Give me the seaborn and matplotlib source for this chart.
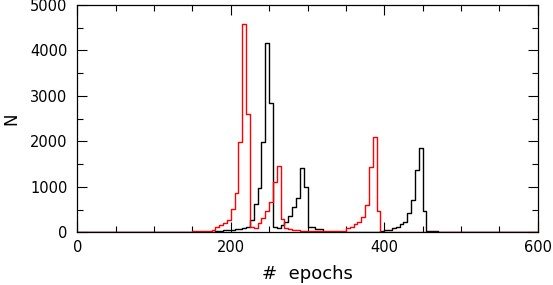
import numpy as np
import pandas as pd
import matplotlib
matplotlib.use("Agg")
import matplotlib.pyplot as plt
import seaborn as sns
from matplotlib.ticker import MultipleLocator

# ---- data (counts per 5-epoch bin) ----
bin_width = 5
red_first_bin = 150
red_counts = [30, 30, 30, 30, 35, 60, 110, 160, 200, 280,
              520, 870, 1980, 4580, 2610, 120, 100, 200, 310, 475,
              670, 1110, 1460, 290, 90, 65, 50, 40, 30, 30,
              30, 30, 30, 30, 30, 30, 30, 30, 35, 35,
              88, 123, 176, 233, 330, 600, 1443, 2090, 470, 15,
              10, 10, 5, 5]
black_first_bin = 175
black_counts = [10, 20, 30, 45, 55, 45, 70, 80, 100, 123,
                270, 620, 970, 1990, 4160, 2850, 123, 88, 160, 230,
                360, 550, 750, 1410, 1000, 120, 120, 65, 65, 15,
                15, 15, 15, 15, 15, 15, 15, 15, 15, 15,
                15, 15, 15, 15, 20, 40, 60, 88, 123, 176,
                233, 418, 710, 1370, 1850, 475, 30, 25, 20, 10, 5]
x_range = (0, 600)
y_range = (0, 5000)
x_ticks = [0, 200, 400, 600]
y_ticks = [0, 1000, 2000, 3000, 4000, 5000]


def to_frame(first, counts, name):
    centers = first + bin_width * (np.arange(len(counts)) + 0.5)
    return pd.DataFrame({"epochs": centers, "N": counts, "run": name})


df = pd.concat([to_frame(black_first_bin, black_counts, "black"),
                to_frame(red_first_bin, red_counts, "red")],
               ignore_index=True)

sns.set_style("ticks")
plt.rcParams["font.family"] = ["DejaVu Sans"]
plt.rcParams["text.color"] = "black"
plt.rcParams["axes.labelcolor"] = "black"
plt.rcParams["xtick.color"] = "black"
plt.rcParams["ytick.color"] = "black"

fig = plt.figure(figsize=(5.53, 2.85), dpi=100)
ax = fig.add_axes([77.3 / 553, 1 - 232.3 / 285, (537.7 - 77.3) / 553, (232.3 - 5) / 285])

for name, col in [("black", "black"), ("red", "#ff0000")]:
    sub = df[df["run"] == name]
    sns.histplot(data=sub, x="epochs", weights="N", binwidth=bin_width,
                 binrange=x_range, element="step", fill=False, color=col,
                 linewidth=1.0, ax=ax)

ax.set_xlim(*x_range)
ax.set_ylim(*y_range)
ax.set_xticks(x_ticks)
ax.set_yticks(y_ticks)
ax.xaxis.set_minor_locator(MultipleLocator(50))
ax.yaxis.set_minor_locator(MultipleLocator(500))
ax.tick_params(which="both", direction="in", top=True, right=True,
               width=0.8, color="black", labelcolor="black")
ax.tick_params(which="major", length=7.5)
ax.tick_params(which="minor", length=4)
ax.tick_params(axis="x", labelsize=10.5, pad=5.5)
ax.tick_params(axis="y", labelsize=10.5, pad=7)
for s in ax.spines.values():
    s.set_visible(True)
    s.set_linewidth(0.9)
    s.set_color("black")

ax.set_xlabel("#  epochs", fontsize=13, labelpad=7, color="black")
ax.set_ylabel("N", fontsize=12, color="black", va="center")
ax.yaxis.set_label_coords(-0.144, 0.5)

fig.savefig("out.png", dpi=100)
